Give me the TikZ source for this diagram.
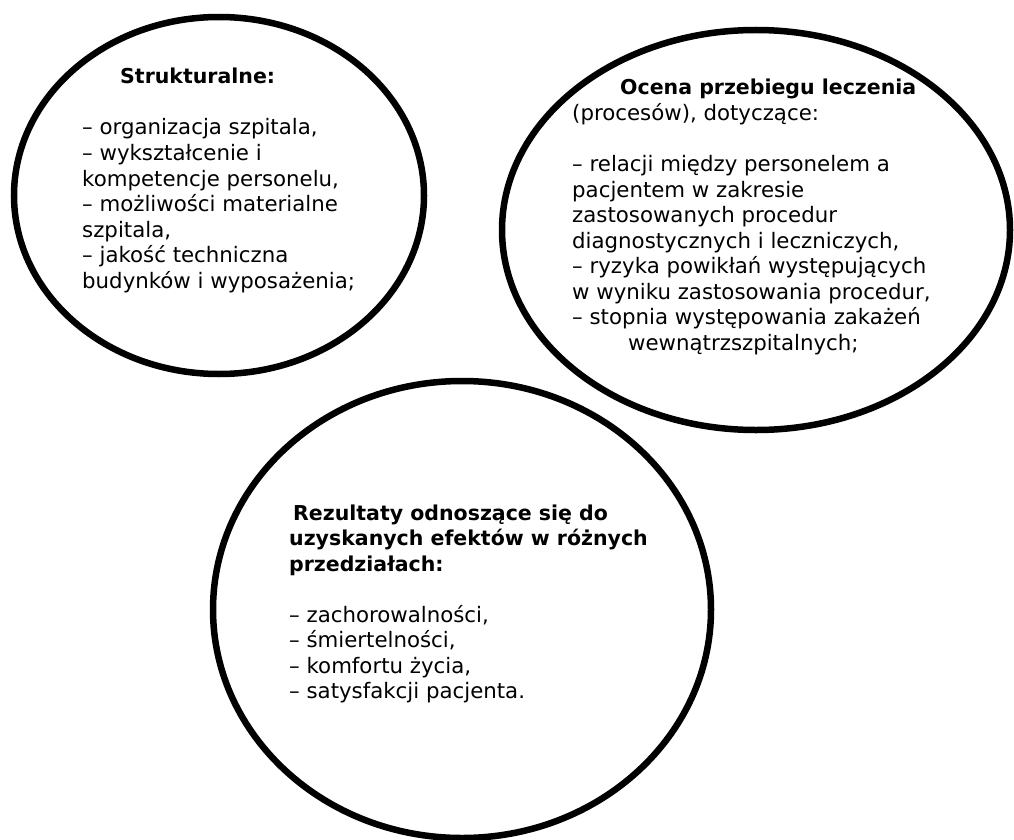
\documentclass[tikz,border=0pt]{standalone}
\usepackage{fontspec}
\setmainfont{DejaVu Sans}
\usetikzlibrary{shapes.geometric}
\tikzset{
  bubble/.style={draw=black, line width=6.5pt, ellipse, inner sep=0pt},
  txt/.style={anchor=base west, inner sep=0pt, font=\fontsize{21.3pt}{25.5pt}\selectfont},
  ttl/.style={anchor=base west, inner sep=0pt, font=\fontsize{20.5pt}{25.5pt}\selectfont\bfseries}
}
\begin{document}
\begin{tikzpicture}[x=1pt,y=-1pt]
\useasboundingbox (0,0) rectangle (1014,840);
% bubbles
\node[bubble, minimum width=410pt, minimum height=357pt] (e1) at (219,195.5) {};
\node[bubble, minimum width=508pt, minimum height=400pt] (e2) at (756,230) {};
\node[bubble, minimum width=498pt, minimum height=457pt] (e3) at (462,609.5) {};
% ellipse 1
\node[ttl] (a0) at (120,84) {Strukturalne:};
\node[txt] (a1) at (82,135) {– organizacja szpitala,};
\node[txt] (a2) at (82,160.5) {– wykształcenie i};
\node[txt] (a3) at (82,186) {kompetencje personelu,};
\node[txt] (a4) at (82,211.5) {– możliwości materialne};
\node[txt] (a5) at (82,237) {szpitala,};
\node[txt] (a6) at (82,262.5) {– jakość techniczna};
\node[txt] (a7) at (82,288) {budynków i wyposażenia;};
% ellipse 2
\node[ttl] (b0) at (620,95) {Ocena przebiegu leczenia};
\node[txt] (b1) at (572,120.5) {(procesów), dotyczące:};
\node[txt] (b2) at (572,171.5) {– relacji między personelem a};
\node[txt] (b3) at (572,197) {pacjentem w zakresie};
\node[txt] (b4) at (572,222.5) {zastosowanych procedur};
\node[txt] (b5) at (572,248) {diagnostycznych i leczniczych,};
\node[txt] (b6) at (572,273.5) {– ryzyka powikłań występujących};
\node[txt] (b7) at (572,299) {w wyniku zastosowania procedur,};
\node[txt] (b8) at (572,324.5) {– stopnia występowania zakażeń};
\node[txt] (b9) at (628,350) {wewnątrzszpitalnych;};
% ellipse 3
\node[ttl] (c0) at (293,520) {Rezultaty odnoszące się do};
\node[ttl] (c1) at (289,545.5) {uzyskanych efektów w różnych};
\node[ttl] (c2) at (289,571) {przedziałach:};
\node[txt] (c3) at (289,622) {– zachorowalności,};
\node[txt] (c4) at (289,647.5) {– śmiertelności,};
\node[txt] (c5) at (289,673) {– komfortu życia,};
\node[txt] (c6) at (289,698.5) {– satysfakcji pacjenta.};
\end{tikzpicture}
\end{document}
